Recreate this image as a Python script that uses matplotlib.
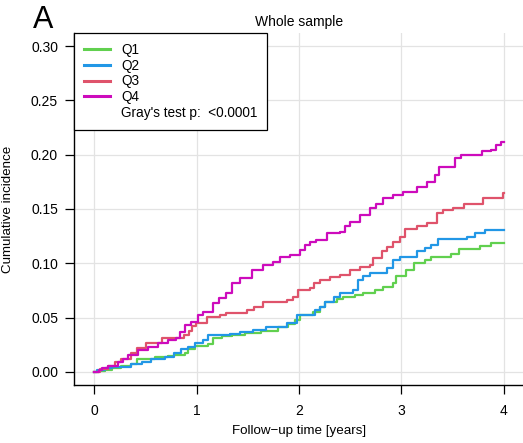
import numpy as np
import matplotlib
matplotlib.use("Agg")
import matplotlib.pyplot as plt
from matplotlib.lines import Line2D

plt.rcParams['font.family'] = ['Liberation Sans', 'DejaVu Sans']

# cumulative incidence curves (time in years, incidence)
q1_t = [0, 0.04, 0.1, 0.17, 0.26, 0.36, 0.42, 0.59, 0.72, 0.78, 0.89, 0.91, 0.98, 1.11, 1.16,
        1.25, 1.34, 1.47, 1.63, 1.79, 1.89, 1.96, 2.01, 2.14, 2.21, 2.25, 2.37, 2.43, 2.55, 2.63,
        2.74, 2.82, 2.92, 2.95, 3.05, 3.12, 3.23, 3.29, 3.49, 3.56, 3.77, 3.88, 4.0]
q1_v = [0, 0.001, 0.002, 0.0035, 0.0055, 0.0074, 0.012, 0.0135, 0.015, 0.016, 0.0172, 0.021, 0.024,
        0.026, 0.031, 0.033, 0.034, 0.0356, 0.038, 0.041, 0.044, 0.048, 0.0525, 0.0555, 0.060, 0.0648,
        0.067, 0.069, 0.071, 0.073, 0.0755, 0.0786, 0.082, 0.0884, 0.094, 0.100, 0.103, 0.106, 0.1087,
        0.113, 0.116, 0.119, 0.119]

q2_t = [0, 0.02, 0.1, 0.17, 0.26, 0.36, 0.46, 0.55, 0.69, 0.78, 0.85, 0.91, 0.98, 1.06, 1.11, 1.33,
        1.42, 1.55, 1.68, 1.88, 1.98, 2.16, 2.21, 2.25, 2.34, 2.40, 2.53, 2.58, 2.63, 2.69, 2.86, 2.92,
        2.99, 3.15, 3.23, 3.29, 3.36, 3.64, 3.72, 3.82, 4.0]
q2_v = [0, 0.002, 0.0037, 0.0046, 0.005, 0.0074, 0.0095, 0.012, 0.014, 0.0178, 0.021, 0.0233, 0.027,
        0.0295, 0.034, 0.0346, 0.037, 0.039, 0.0417, 0.0448, 0.0525, 0.057, 0.060, 0.0648, 0.069, 0.073,
        0.075, 0.0847, 0.088, 0.091, 0.0958, 0.103, 0.106, 0.111, 0.114, 0.117, 0.122, 0.1246, 0.1277,
        0.1308, 0.1308]

q3_t = [0, 0.05, 0.13, 0.2, 0.26, 0.36, 0.42, 0.5, 0.66, 0.88, 0.92, 0.95, 0.99, 1.10, 1.23, 1.29,
        1.49, 1.56, 1.65, 1.88, 1.94, 1.99, 2.11, 2.15, 2.21, 2.30, 2.40, 2.50, 2.60, 2.69, 2.72, 2.81,
        2.86, 2.92, 2.99, 3.04, 3.15, 3.25, 3.35, 3.41, 3.51, 3.61, 3.80, 3.99, 4.0]
q3_v = [0, 0.003, 0.0055, 0.009, 0.012, 0.0175, 0.022, 0.027, 0.031, 0.034, 0.038, 0.042, 0.045, 0.051,
        0.0525, 0.054, 0.057, 0.060, 0.0648, 0.0663, 0.069, 0.075, 0.077, 0.082, 0.0847, 0.0878, 0.0893,
        0.094, 0.097, 0.0985, 0.105, 0.111, 0.1154, 0.12, 0.1246, 0.132, 0.134, 0.137, 0.146, 0.149,
        0.151, 0.155, 0.160, 0.165, 0.165]

q4_t = [0, 0.04, 0.07, 0.13, 0.23, 0.28, 0.33, 0.43, 0.52, 0.62, 0.72, 0.80, 0.84, 0.89, 0.94, 1.01,
        1.06, 1.16, 1.22, 1.29, 1.34, 1.42, 1.54, 1.65, 1.75, 1.81, 1.91, 2.01, 2.06, 2.11, 2.17, 2.27,
        2.40, 2.45, 2.50, 2.60, 2.69, 2.75, 2.82, 2.92, 3.02, 3.15, 3.25, 3.33, 3.37, 3.53, 3.58, 3.79,
        3.88, 3.93, 3.98, 4.0]
q4_v = [0, 0.002, 0.0037, 0.0055, 0.0095, 0.012, 0.0157, 0.020, 0.023, 0.027, 0.0295, 0.031, 0.037,
        0.043, 0.046, 0.0525, 0.0555, 0.0635, 0.068, 0.0727, 0.082, 0.0866, 0.094, 0.0985, 0.1016, 0.106,
        0.1078, 0.1124, 0.117, 0.12, 0.1216, 0.128, 0.129, 0.134, 0.1384, 0.1446, 0.151, 0.155, 0.160,
        0.163, 0.166, 0.1707, 0.175, 0.1814, 0.189, 0.197, 0.200, 0.203, 0.2045, 0.209, 0.212, 0.212]

groups = ["Q1", "Q2", "Q3", "Q4"]
colors = ["#61D04F", "#2297E6", "#DF536B", "#CD0BBC"]
x_ticks = [0, 1, 2, 3, 4]
y_ticks = [0.00, 0.05, 0.10, 0.15, 0.20, 0.25, 0.30]
test_label = "Gray's test p:  <0.0001"

W, H = 523, 443
fig = plt.figure(figsize=(W / 100, H / 100), dpi=100)
ax = fig.add_axes([74 / W, 1 - 385 / H, 450 / W, 352 / H])

# curves
series = [(q1_t, q1_v), (q2_t, q2_v), (q3_t, q3_v), (q4_t, q4_v)]
for (t, v), c, g in zip(series, colors, groups):
    ax.step(t, v, where='post', color=c, lw=1.6, label=g)

ax.set_xlim(-0.2, 4.2)
ax.set_ylim(-0.012, 0.312)
ax.set_xticks(x_ticks)
ax.set_yticks(y_ticks)
ax.set_yticklabels(["%.2f" % y for y in y_ticks])
ax.grid(True, color='#e3e3e3', lw=0.9)
ax.set_axisbelow(True)

for s in ['top', 'right']:
    ax.spines[s].set_visible(False)
for s in ['left', 'bottom']:
    ax.spines[s].set_linewidth(1.0)
ax.tick_params(axis='both', direction='out', length=6.5, width=0.9, labelsize=10)
ax.tick_params(axis='x', pad=7)
ax.tick_params(axis='y', pad=5)

ax.set_title("Whole sample", fontsize=10, pad=5)
fig.text(299 / W, 1 - 431 / H, "Follow\u2212up time [years]", ha='center', va='center', fontsize=9.6)
fig.text(8 / W, 1 - 209 / H, "Cumulative incidence", ha='center', va='center',
         rotation=90, fontsize=9.6)
fig.text(33 / W, 1 - 28 / H, "A", ha='left', va='baseline', fontsize=22)

# legend, last entry has no line
handles = [Line2D([], [], color=c, lw=2.2) for c in colors]
handles.append(Line2D([], [], color='none'))
leg = ax.legend(handles, groups + [test_label], loc='upper left', bbox_to_anchor=(0, 1),
                borderaxespad=0, fancybox=False, edgecolor='black', framealpha=1,
                fontsize=9.8, handlelength=1.9, handletextpad=0.85, labelspacing=0.13,
                borderpad=0.72)
leg.get_frame().set_linewidth(0.9)

fig.savefig("out.png", dpi=100)
